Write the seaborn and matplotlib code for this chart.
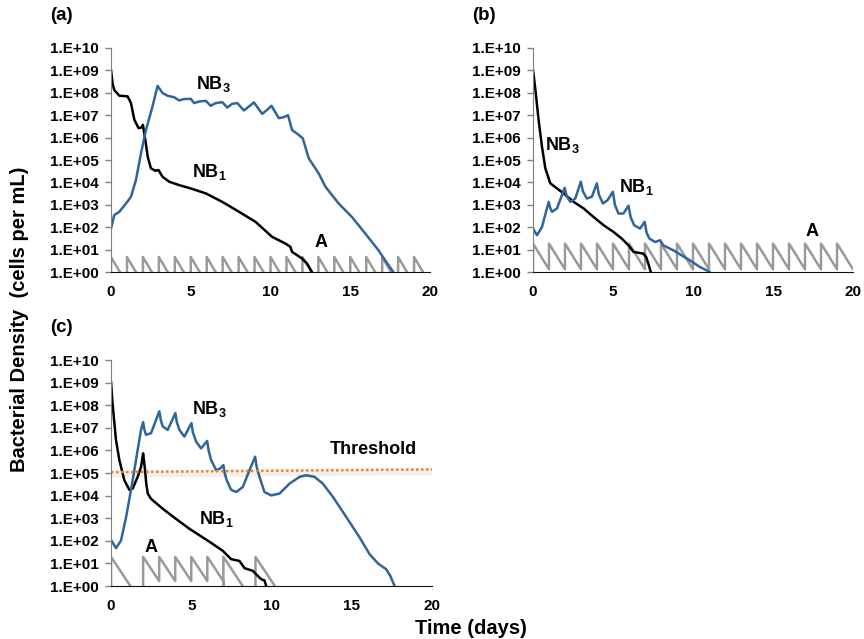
import numpy as np
import pandas as pd
import matplotlib
matplotlib.use("Agg")
import matplotlib.pyplot as plt
import seaborn as sns

# ---- data (log10 cells per mL) ----
# panel (a)
a_nb1_t = [0, 0.1, 0.2, 0.52, 1.04, 1.25, 1.46, 1.73, 1.94, 2.0, 2.15, 2.3, 2.5, 2.77, 2.98, 3.23, 3.65,
           4.27, 5.0, 5.94, 6.98, 8.02, 9.06, 10.1, 10.94, 11.25, 11.35, 11.98, 12.3, 12.6]
a_nb1_y = [9.03, 8.4, 8.13, 7.87, 7.84, 7.54, 6.8, 6.42, 6.46, 6.57, 5.9, 5.15, 4.63, 4.52, 4.55, 4.25, 4.03,
           3.88, 3.73, 3.51, 3.13, 2.69, 2.24, 1.57, 1.27, 1.12, 0.9, 0.6, 0.37, 0.0]
a_nb3_t = [0, 0.2, 0.52, 0.94, 1.25, 1.56, 1.88, 2.19, 2.6, 2.92, 3.23, 3.54, 3.96, 4.27, 4.58, 5.0,
           5.21, 5.52, 5.94, 6.25, 6.56, 6.98, 7.29, 7.6, 7.92, 8.33, 8.65, 8.96, 9.48, 9.79, 10.06,
           10.52, 10.83, 11.1, 11.35, 11.77, 12.02, 12.4, 13.02, 13.44, 14.27, 15.1, 15.94, 16.77,
           17.19, 17.7]
a_nb3_y = [1.94, 2.54, 2.69, 3.06, 3.36, 4.1, 5.3, 6.34, 7.39, 8.31, 7.99, 7.87, 7.8, 7.66, 7.72, 7.73,
           7.54, 7.61, 7.64, 7.42, 7.54, 7.58, 7.34, 7.51, 7.54, 7.21, 7.39, 7.57, 7.06, 7.24, 7.42,
           6.87, 6.91, 7.0, 6.34, 6.12, 5.97, 5.07, 4.4, 3.81, 3.06, 2.46, 1.72, 0.97,
           0.52, 0.0]
a_A_days = list(range(20))
a_A_peak = 0.67
a_A_rate = 1.2

# panel (b)
b_nb3_t = [0, 0.15, 0.35, 0.56, 0.77, 1.08, 1.5, 1.91, 2.54, 3.16, 3.78, 4.41, 5.03, 5.55, 5.97,
           6.28, 6.9, 7.07, 7.21, 7.36]
b_nb3_y = [9.03, 8.13, 6.79, 5.6, 4.63, 3.96, 3.73, 3.51, 3.13, 2.84, 2.46, 2.09, 1.79, 1.49, 1.19,
           0.9, 0.82, 0.67, 0.37, 0.0]
b_nb1_t = [0, 0.25, 0.56, 0.98, 1.08, 1.19, 1.5, 1.98, 2.1, 2.33, 2.64, 2.99, 3.12, 3.37, 3.68, 3.99,
           4.12, 4.37, 4.66, 4.99, 5.12, 5.34, 5.65, 5.97, 6.1, 6.32, 6.69, 6.98, 7.1, 7.28, 7.63,
           7.94, 8.15, 8.77, 9.81, 10.44, 11.06]
b_nb1_y = [1.94, 1.64, 2.01, 3.13, 2.85, 2.69, 2.84, 3.76, 3.4, 3.13, 3.28, 4.03, 3.6, 3.28, 3.36, 3.96,
           3.45, 3.06, 3.21, 3.58, 3.0, 2.61, 2.61, 2.96, 2.45, 2.09, 1.94, 2.24, 1.75, 1.49, 1.34,
           1.42, 1.19, 0.97, 0.52, 0.22, 0.0]
b_A_days = list(range(20))
b_A_peak = 1.27
b_A_rate = 1.15

# panel (c)
c_nb1_t = [0, 0.07, 0.15, 0.31, 0.52, 0.83, 1.14, 1.35, 1.66, 1.87, 2.0, 2.06, 2.12, 2.2, 2.29, 2.49,
           3.22, 4.05, 4.89, 5.72, 6.34, 6.96, 7.48, 8.0, 8.32, 8.84, 9.04, 9.36, 9.56, 9.67]
c_nb1_y = [9.06, 8.3, 7.65, 6.46, 5.57, 4.68, 4.26, 4.31, 4.83, 5.27, 5.87, 5.5, 5.13, 4.5, 4.09, 3.86,
           3.42, 2.97, 2.53, 2.15, 1.86, 1.56, 1.19, 1.11, 0.79, 0.67, 0.52, 0.3, 0.25, 0.0]
c_nb3_t = [0, 0.31, 0.62, 0.94, 1.35, 1.66, 1.87, 2.0, 2.08, 2.18, 2.49, 3.01, 3.1, 3.22, 3.53, 4.01,
           4.1, 4.26, 4.57, 5.01, 5.1, 5.3, 5.61, 5.99, 6.08, 6.24, 6.55, 6.8, 7.0, 7.08, 7.21, 7.48,
           7.8, 8.21, 8.63, 8.98, 9.08, 9.25, 9.56, 9.98, 10.5, 11.12, 11.75, 12.16, 12.68, 13.2,
           13.83, 14.66, 15.49, 16.11, 16.63, 17.15, 17.4, 17.67]
c_nb3_y = [2.04, 1.68, 2.01, 3.05, 4.68, 6.02, 6.91, 7.25, 6.92, 6.69, 6.76, 7.73, 7.35, 7.06, 6.91,
           7.65, 7.25, 6.91, 6.61, 7.21, 6.8, 6.39, 6.09, 6.42, 6.0, 5.57, 5.13, 5.2, 5.35, 5.0, 4.68,
           4.26, 4.16, 4.38, 5.13, 5.72, 5.25, 4.83, 4.16, 4.01, 4.09, 4.53, 4.83, 4.9, 4.83, 4.53,
           3.94, 3.05, 2.15, 1.41, 1.0, 0.74, 0.45, 0.0]
c_A_days = [0, 2, 3, 4, 5, 6, 7, 9]
c_A_peak = 1.29
c_A_rate = 1.07
threshold_t = [0, 20]
threshold_y = [5.04, 5.16]

BLUE = "#30659a"
BLACK = "#000000"
GREY = "#9a9a9a"
ORANGE = "#f5821f"

sns.set_style("white")
plt.rcParams["font.family"] = ["Liberation Sans", "DejaVu Sans"]
plt.rcParams["font.weight"] = "bold"
plt.rcParams["text.color"] = "black"
plt.rcParams["xtick.color"] = "black"
plt.rcParams["ytick.color"] = "black"
plt.rcParams["mathtext.fontset"] = "custom"
plt.rcParams["mathtext.rm"] = "Liberation Sans:bold"
plt.rcParams["mathtext.bf"] = "Liberation Sans:bold"
plt.rcParams["mathtext.it"] = "Liberation Sans:bold"


def sawtooth(days, peak, rate, end):
    t, y = [], []
    stops = days[1:] + [end]
    for d, nxt in zip(days, stops):
        low = peak - rate * (nxt - d)
        t += [d, d, nxt]
        y += [np.nan if not t[:-2] else low, peak, low]
    df = pd.DataFrame({"t": t, "y": y}).dropna()
    df["v"] = 10 ** df["y"]
    return df


def curve(ax, t, y, color):
    df = pd.DataFrame({"t": t, "v": 10 ** np.array(y)})
    sns.lineplot(data=df, x="t", y="v", ax=ax, color=color, lw=1.8,
                 estimator=None, sort=False)


def style(ax, label):
    ax.set_yscale("log")
    ax.set_xlim(0, 20)
    ax.set_ylim(1, 1e10)
    ax.set_yticks([10.0 ** k for k in range(11)])
    ax.set_yticklabels(["1.E+%02d" % k for k in range(11)], fontsize=11, fontweight="bold")
    ax.yaxis.set_minor_locator(matplotlib.ticker.NullLocator())
    ax.set_xticks([0, 5, 10, 15, 20])
    ax.set_xticklabels(["0", "5", "10", "15", "20"], fontsize=11, fontweight="bold")
    ax.tick_params(axis="y", left=True, length=4, width=1, color="#808080", pad=5)
    ax.tick_params(axis="x", bottom=False, pad=6)
    for s in ["top", "right"]:
        ax.spines[s].set_visible(False)
    ax.spines["left"].set_color("#808080")
    ax.spines["bottom"].set_color("#111111")
    ax.set_xlabel("")
    ax.set_ylabel("")
    ax.text(-0.19, 1.145, label, transform=ax.transAxes, fontsize=13.5, fontweight="bold",
            ha="left", va="center")


def lab(ax, x, y, s, size=13):
    ax.text(x, 10 ** y, s, fontsize=size, fontweight="bold", ha="left", va="center")


fig = plt.figure(figsize=(8.64, 6.39), dpi=100)
ax_a = fig.add_axes([0.1285, 0.5743, 0.3692, 0.3506])
ax_b = fig.add_axes([0.6169, 0.5743, 0.3704, 0.3506])
ax_c = fig.add_axes([0.1285, 0.0829, 0.3715, 0.3537])

# (a)
dfA = sawtooth(a_A_days, a_A_peak, a_A_rate, 20)
sns.lineplot(data=dfA, x="t", y="v", ax=ax_a, color=GREY, lw=1.8, estimator=None, sort=False)
curve(ax_a, a_nb1_t, a_nb1_y, BLACK)
curve(ax_a, a_nb3_t, a_nb3_y, BLUE)
style(ax_a, "(a)")
lab(ax_a, 5.3, 8.4, r"NB$_\mathbf{3}$")
lab(ax_a, 5.1, 4.45, r"NB$_\mathbf{1}$")
lab(ax_a, 12.75, 1.3, "A")

# (b)
dfB = sawtooth(b_A_days, b_A_peak, b_A_rate, 20)
sns.lineplot(data=dfB, x="t", y="v", ax=ax_b, color=GREY, lw=1.8, estimator=None, sort=False)
curve(ax_b, b_nb3_t, b_nb3_y, BLACK)
curve(ax_b, b_nb1_t, b_nb1_y, BLUE)
style(ax_b, "(b)")
lab(ax_b, 0.75, 5.65, r"NB$_\mathbf{3}$")
lab(ax_b, 5.4, 3.8, r"NB$_\mathbf{1}$")
lab(ax_b, 17.05, 1.8, "A")

# (c)
dfC = sawtooth(c_A_days, c_A_peak, c_A_rate, 11)
sns.lineplot(data=dfC, x="t", y="v", ax=ax_c, color=GREY, lw=1.8, estimator=None, sort=False)
curve(ax_c, c_nb1_t, c_nb1_y, BLACK)
curve(ax_c, c_nb3_t, c_nb3_y, BLUE)
thr = 10 ** np.array(threshold_y)
ax_c.plot(threshold_t, thr * 0.8, color="#000000", lw=5, alpha=0.06, solid_capstyle="butt")
ax_c.plot(threshold_t, thr, color=ORANGE, lw=1.8, ls=(0, (1, 1)))
style(ax_c, "(c)")
lab(ax_c, 5.05, 7.85, r"NB$_\mathbf{3}$")
lab(ax_c, 5.5, 2.95, r"NB$_\mathbf{1}$")
lab(ax_c, 2.1, 1.7, "A")
lab(ax_c, 13.6, 6.05, "Threshold")

fig.text(0.023, 0.5, "Bacterial Density  (cells per mL)", rotation=90, fontsize=14.5,
         fontweight="bold", ha="center", va="center")
fig.text(0.545, 0.017, "Time (days)", fontsize=14.5, fontweight="bold", ha="center", va="center")

fig.savefig("out.png", dpi=100)
